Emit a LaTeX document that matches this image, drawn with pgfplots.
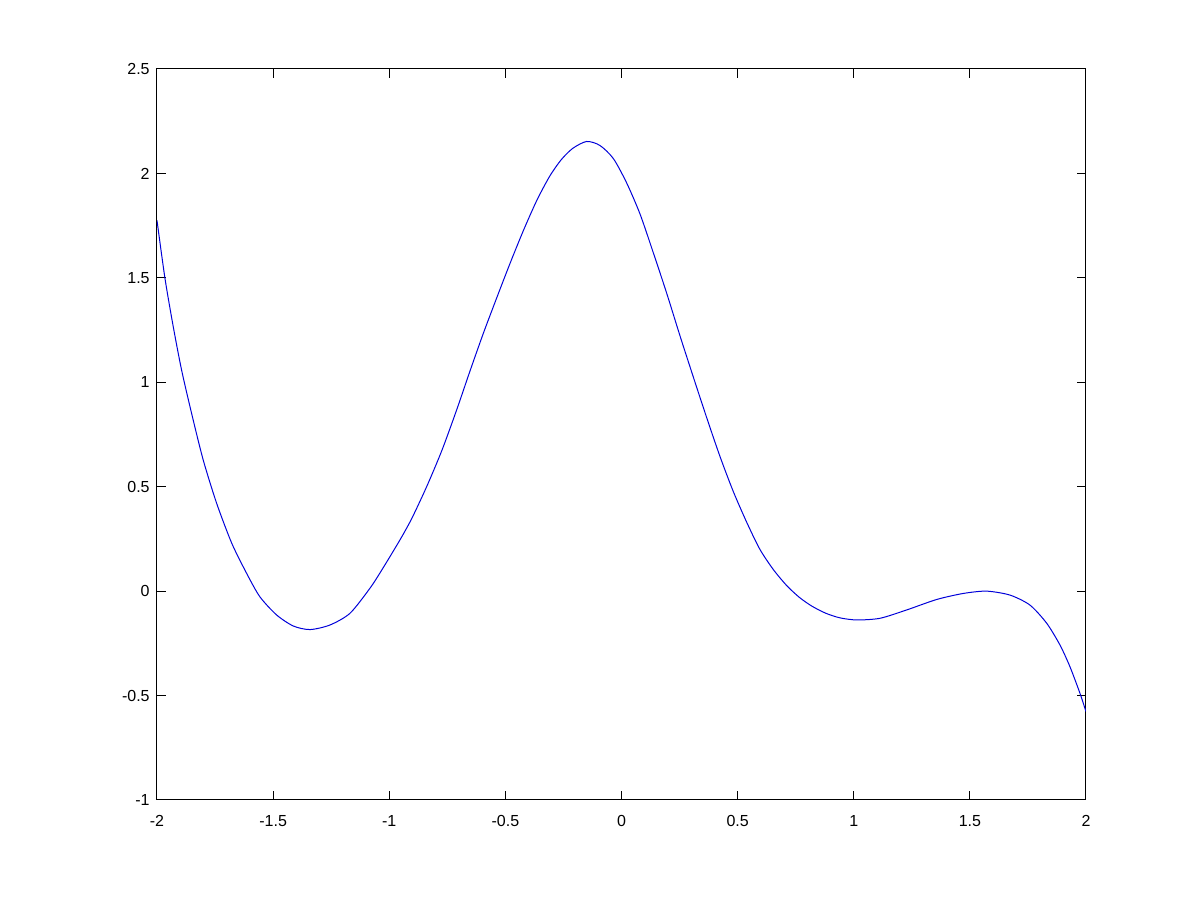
\documentclass[border=0pt]{standalone}
\usepackage{pgfplots}
\pgfplotsset{compat=1.18}
\usepackage{fontspec}
\setmainfont{Liberation Sans}
\begin{document}
\fontsize{8pt}{9.6pt}\selectfont
\begin{tikzpicture}
\begin{axis}[
  scale only axis,
  width=464.5pt, height=365.5pt,
  xmin=-2, xmax=2, ymin=-1, ymax=2.5,
  xtick={-2,-1.5,...,2}, ytick={-1,-0.5,...,2.5},
  tick align=inside,
  major tick length=4.5pt,
  tick style={black, line width=0.5pt},
  axis line style={black, line width=0.5pt},
  /pgf/number format/assume math mode=true,
  /pgf/number format/fixed,
  ticklabel style={font=\fontsize{8pt}{9.6pt}\selectfont},
  xticklabel style={inner sep=1pt, yshift=-6.5pt},
  yticklabel style={inner sep=1pt, xshift=-2.5pt},
]
\addplot[color={rgb,1:red,0;green,0;blue,0.85}, line width=0.5pt, smooth, tension=0.45] coordinates {
(-2.000,1.775) (-1.966,1.500) (-1.930,1.266) (-1.894,1.058) (-1.851,0.851)
(-1.801,0.628) (-1.743,0.420) (-1.678,0.229) (-1.614,0.085) (-1.557,-0.027)
(-1.485,-0.114) (-1.413,-0.167) (-1.341,-0.184) (-1.255,-0.162) (-1.169,-0.106)
(-1.083,0.014) (-1.030,0.105) (-0.954,0.245) (-0.903,0.348) (-0.839,0.500)
(-0.774,0.672) (-0.710,0.867) (-0.652,1.055) (-0.595,1.234) (-0.537,1.405)
(-0.480,1.569) (-0.423,1.725) (-0.365,1.870) (-0.310,1.985) (-0.260,2.065)
(-0.210,2.120) (-0.150,2.153) (-0.093,2.134) (-0.035,2.071) (0.022,1.955)
(0.080,1.805) (0.137,1.620) (0.195,1.425) (0.252,1.222) (0.309,1.026)
(0.367,0.830) (0.424,0.645) (0.481,0.478) (0.539,0.330) (0.596,0.200)
(0.654,0.103) (0.711,0.027) (0.766,-0.030) (0.820,-0.072) (0.880,-0.106)
(0.941,-0.128) (1.013,-0.138)
(1.113,-0.130) (1.228,-0.090) (1.357,-0.040) (1.472,-0.011) (1.572,0.000)
(1.673,-0.019) (1.759,-0.067) (1.831,-0.154) (1.888,-0.258) (1.931,-0.362)
(1.974,-0.489) (2.000,-0.577)
};
\end{axis}
\path[use as bounding box] (-78.5pt,-50pt) rectangle (522pt,400pt);
\end{tikzpicture}
\end{document}
